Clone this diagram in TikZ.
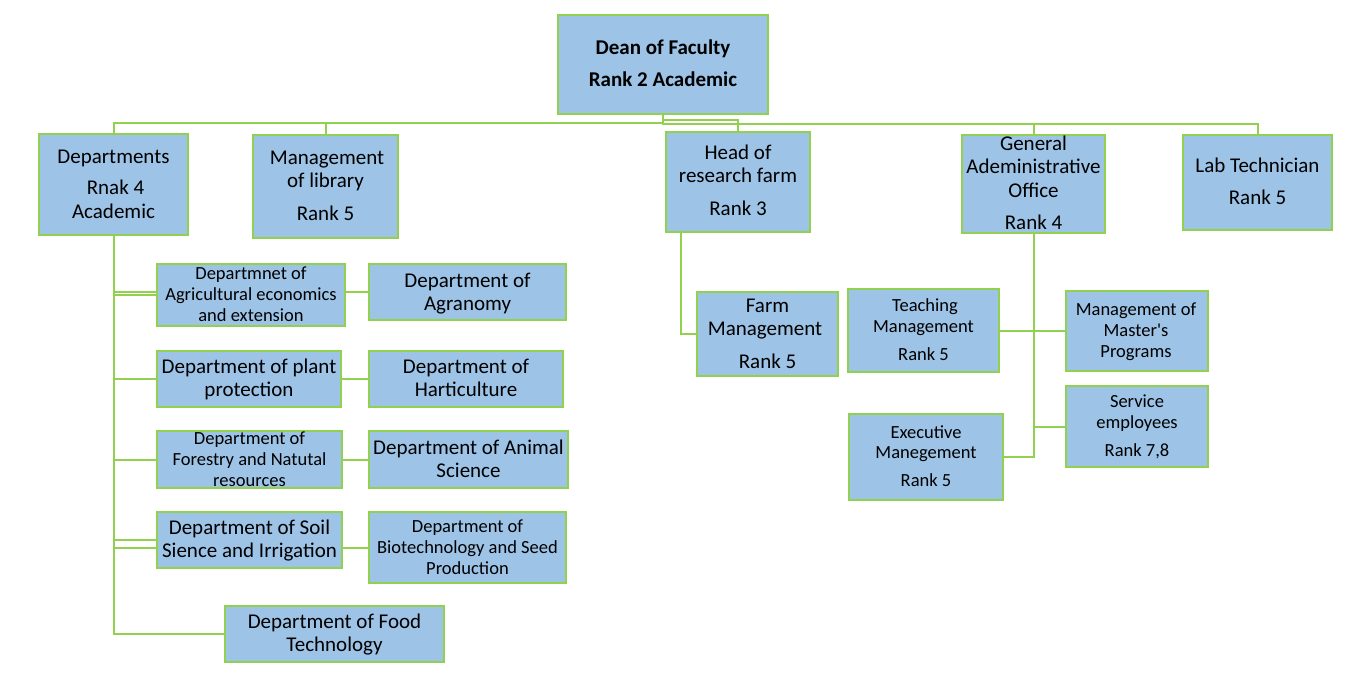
\documentclass[tikz,border=0pt]{standalone}
\usepackage{fontspec}
\setmainfont{Carlito}
\usetikzlibrary{backgrounds}
\definecolor{boxfill}{HTML}{9DC3E6}
\definecolor{boxline}{HTML}{92D050}
\tikzset{
  box/.style={draw=boxline, fill=boxfill, line width=2.4pt, inner sep=0pt, rectangle},
  conn/.style={draw=boxline, line width=2pt},
  txt/.style={inner sep=0pt, text height=0.63em, text depth=0pt, yshift=-3.5pt},
  big/.style={txt, font=\fontsize{21}{25}\selectfont},
  small/.style={txt, font=\fontsize{18.5}{22}\selectfont},
  bold/.style={txt, font=\fontsize{21}{25}\selectfont\bfseries}
}
\newcommand\bx[5]{\node[box,minimum width=#4pt,minimum height=#5pt] (#1) at (#2,#3) {};}
\newcommand\tl[5]{\node[#1] (#2) at (#3,#4) {#5};}
\begin{document}
\begin{tikzpicture}[x=1pt,y=-1pt]
\useasboundingbox (0,0) rectangle (1345,678);
% boxes
\bx{dean}{663}{64.5}{210}{99}
\bx{dept}{113.5}{184.5}{149}{101}
\bx{lib}{325.5}{186.5}{145}{103}
\bx{hr}{738}{182}{144}{100}
\bx{ga}{1033.5}{184}{143}{98}
\bx{lab}{1257.5}{182.5}{149}{95}
\bx{agri}{251}{295}{188}{62}
\bx{agro}{467.5}{292}{197}{56}
\bx{plant}{249}{379}{184}{56}
\bx{hort}{466}{379}{194}{56}
\bx{forest}{249.5}{459.5}{185}{57}
\bx{animal}{468.5}{459.5}{199}{57}
\bx{soil}{249.5}{540}{185}{56}
\bx{bio}{467.5}{547.5}{197}{71}
\bx{food}{334.5}{634}{219}{56}
\bx{farm}{767.5}{334}{141}{84}
\bx{teach}{923.5}{330.5}{151}{83}
\bx{master}{1137}{331}{142}{80}
\bx{exec}{926}{457}{154}{86}
\bx{serv}{1137}{426.5}{142}{81}
% texts
\tl{bold}{dean1}{663}{48}{Dean of Faculty}
\tl{bold}{dean2}{663}{80}{Rank 2 Academic}
\tl{big}{dept1}{113.5}{157}{Departments}
\tl{big}{dept2}{115.5}{188}{Rnak 4}
\tl{big}{dept3}{113.5}{212}{Academic}
\tl{big}{lib1}{327}{158}{Management}
\tl{big}{lib2}{325.5}{181}{of library}
\tl{big}{lib3}{325.5}{214}{Rank 5}
\tl{big}{hr1}{738}{153}{Head of}
\tl{big}{hr2}{738}{176}{research farm}
\tl{big}{hr3}{738}{209}{Rank 3}
\tl{big}{ga1}{1033.5}{144}{General}
\tl{big}{ga2}{1033.5}{167}{Adeministrative}
\tl{big}{ga3}{1033.5}{191}{Office}
\tl{big}{ga4}{1033.5}{223}{Rank 4}
\tl{big}{lab1}{1257.5}{166}{Lab Technician}
\tl{big}{lab2}{1257.5}{198}{Rank 5}
\tl{small}{agri1}{251}{273}{Departmnet of}
\tl{small}{agri2}{251}{294}{Agricultural economics}
\tl{small}{agri3}{251}{315}{and extension}
\tl{big}{agro1}{467.5}{281}{Department of}
\tl{big}{agro2}{467.5}{304}{Agranomy}
\tl{big}{plant1}{249}{367}{Department of plant}
\tl{big}{plant2}{249}{390}{protection}
\tl{big}{hort1}{466}{367}{Department of}
\tl{big}{hort2}{466}{390}{Harticulture}
\tl{small}{forest1}{249.5}{438}{Department of}
\tl{small}{forest2}{249.5}{459}{Forestry and Natutal}
\tl{small}{forest3}{249.5}{480}{resources}
\tl{big}{animal1}{468.5}{448}{Department of Animal}
\tl{big}{animal2}{468.5}{471}{Science}
\tl{big}{soil1}{249.5}{528}{Department of Soil}
\tl{big}{soil2}{249.5}{551}{Sience and Irrigation}
\tl{small}{bio1}{467.5}{526}{Department of}
\tl{small}{bio2}{467.5}{547}{Biotechnology and Seed}
\tl{small}{bio3}{467.5}{568}{Production}
\tl{big}{food1}{334.5}{622}{Department of Food}
\tl{big}{food2}{334.5}{645}{Technology}
\tl{big}{farm1}{767.5}{306}{Farm}
\tl{big}{farm2}{765}{329}{Management}
\tl{big}{farm3}{767.5}{362}{Rank 5}
\tl{small}{teach1}{925}{305}{Teaching}
\tl{small}{teach2}{923.5}{326}{Management}
\tl{small}{teach3}{923.5}{354}{Rank 5}
\tl{small}{master1}{1136}{309}{Management of}
\tl{small}{master2}{1136}{330}{Master\textquotesingle s}
\tl{small}{master3}{1136}{351}{Programs}
\tl{small}{exec1}{926}{432}{Executive}
\tl{small}{exec2}{926}{452}{Manegement}
\tl{small}{exec3}{926}{480}{Rank 5}
\tl{small}{serv1}{1137}{401}{Service}
\tl{small}{serv2}{1137}{422}{employees}
\tl{small}{serv3}{1137}{450}{Rank 7,8}
% connectors
\begin{pgfonlayer}{background}
\draw[conn] (dean.south) -- ++(0,8) -| (dept.north);
\draw[conn] (dean.south) -- ++(0,8) -| (lib.north);
\draw[conn] (dean.south) -- ++(0,5) -| (hr.north);
\draw[conn] (dean.south) -- ++(0,9) -| (ga.north);
\draw[conn] (dean.south) -- ++(0,9) -| (lab.north);
\draw[conn] (dept.south) |- (food.west);
\draw[conn] (agri.west) -- (agri.west -| dept.south);
\draw[conn] (agro.west) -- (agro.west -| dept.south);
\draw[conn] (plant.west) -- (plant.west -| dept.south);
\draw[conn] (hort.west) -- (hort.west -| dept.south);
\draw[conn] (forest.west) -- (forest.west -| dept.south);
\draw[conn] (animal.west) -- (animal.west -| dept.south);
\draw[conn] (soil.west) -- (soil.west -| dept.south);
\draw[conn] (bio.west) -- (bio.west -| dept.south);
\draw[conn] ([xshift=-57pt]hr.south) |- (farm.west);
\draw[conn] (ga.south) |- (exec.east);
\draw[conn] (teach.east) -- (teach.east -| ga.south);
\draw[conn] (master.west) -- (master.west -| ga.south);
\draw[conn] (serv.west) -- (serv.west -| ga.south);
\end{pgfonlayer}
\end{tikzpicture}
\end{document}
